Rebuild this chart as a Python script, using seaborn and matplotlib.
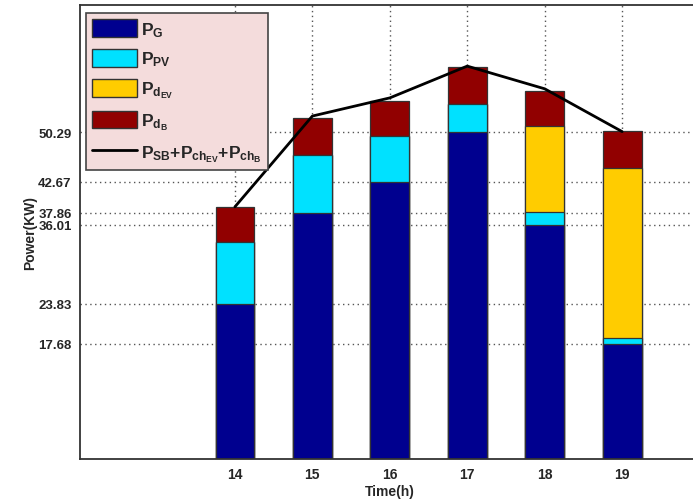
import matplotlib
matplotlib.use("Agg")
import matplotlib.pyplot as plt
import seaborn as sns
import pandas as pd
from matplotlib.patches import Patch
from matplotlib.lines import Line2D

# ---- data ----
hours = [14, 15, 16, 17, 18, 19]
p_g = [23.83, 37.86, 42.67, 50.29, 36.01, 17.68]
p_pv = [9.5, 8.9, 7.0, 4.4, 2.0, 0.9]
p_dev = [0.0, 0.0, 0.0, 0.0, 13.3, 26.2]
p_db = [5.4, 5.7, 5.5, 5.6, 5.4, 5.7]
p_line = [38.8, 52.8, 55.6, 60.5, 57.0, 50.4]
ytick_vals = [17.68, 23.83, 36.01, 37.86, 42.67, 50.29]
ytick_labels = ["17.68", "23.83", "36.01", "37.86", "42.67", "50.29"]

c_g = "#00008f"
c_pv = "#00e1ff"
c_dev = "#ffcc00"
c_db = "#910000"

sns.set_style("white")
plt.rcParams["font.family"] = ["Liberation Sans", "DejaVu Sans"]
plt.rcParams["font.weight"] = "bold"
plt.rcParams["mathtext.fontset"] = "custom"
plt.rcParams["mathtext.rm"] = "Liberation Sans:bold"
plt.rcParams["mathtext.it"] = "Liberation Sans:bold"
plt.rcParams["mathtext.bf"] = "Liberation Sans:bold"

df = pd.DataFrame({"hour": hours, "g": p_g, "pv": p_pv, "dev": p_dev, "db": p_db})
df["c1"] = df["g"]
df["c2"] = df["c1"] + df["pv"]
df["c3"] = df["c2"] + df["dev"]
df["c4"] = df["c3"] + df["db"]

fig = plt.figure(figsize=(6.93, 5.02), dpi=100)
ax = fig.add_axes([80 / 693, (502 - 459.5) / 502, 619.6 / 693, (459.5 - 5.5) / 502])
ax.set_axisbelow(True)

for col, color in [("c4", c_db), ("c3", c_dev), ("c2", c_pv), ("c1", c_g)]:
    sns.barplot(data=df, x="hour", y=col, native_scale=True, width=0.5,
                color=color, saturation=1, edgecolor="#333333", linewidth=0.9,
                errorbar=None, ax=ax, zorder=2)

line_df = pd.DataFrame({"hour": hours, "v": p_line})
sns.lineplot(data=line_df, x="hour", y="v", color="black", linewidth=2, ax=ax, zorder=3)

ax.set_xlim(12, 20)
ax.set_ylim(0, 70)
ax.set_xticks(hours)
ax.set_xticklabels([str(h) for h in hours], fontsize=10, fontweight="bold")
ax.set_yticks(ytick_vals)
ax.set_yticklabels(ytick_labels, fontsize=9.5, fontweight="bold")
ax.tick_params(direction="in", length=5, width=1, color="#333333", pad=6)
ax.grid(True, linestyle=(0, (1, 2.5)), color="#555555", linewidth=1)
for s in ax.spines.values():
    s.set_color("#333333")
    s.set_linewidth(1.3)

ax.set_xlabel("Time(h)", fontsize=10, fontweight="bold", labelpad=2)
ax.set_ylabel("Power(KW)", fontsize=10, fontweight="bold", labelpad=1)

handles = [
    Patch(facecolor=c_g, edgecolor="#333333", linewidth=1),
    Patch(facecolor=c_pv, edgecolor="#333333", linewidth=1),
    Patch(facecolor=c_dev, edgecolor="#333333", linewidth=1),
    Patch(facecolor=c_db, edgecolor="#333333", linewidth=1),
    Line2D([0], [0], color="black", linewidth=2),
]
labels = [r"$P_G$", r"$P_{PV}$", r"$P_{d_{EV}}$", r"$P_{d_B}$",
          r"$P_{SB}$+$P_{ch_{EV}}$+$P_{ch_B}$"]
leg = ax.legend(handles, labels, loc="upper left",
                bbox_to_anchor=(86 / 693, 1 - 14 / 502), bbox_transform=fig.transFigure,
                borderaxespad=0, fontsize=12.5, handlelength=2.6, handleheight=1.2,
                labelspacing=0.6, handletextpad=0.2, borderpad=0.35,
                fancybox=False, frameon=True, framealpha=1)
leg.get_frame().set_facecolor("#f4dcdc")
leg.get_frame().set_edgecolor("#444444")
leg.get_frame().set_linewidth(1.2)

fig.savefig("out.png", dpi=100)
